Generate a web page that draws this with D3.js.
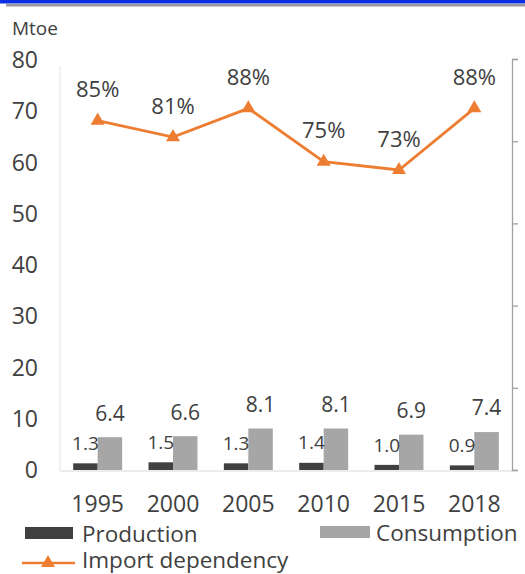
<!DOCTYPE html>
<html><head><meta charset="utf-8">
<script src="https://cdn.jsdelivr.net/npm/d3@7"></script>
<style>body{margin:0;background:#fff;} svg{display:block;}</style>
</head><body>
<script>
const years = ["1995","2000","2005","2010","2015","2018"];
const production = [1.3, 1.5, 1.3, 1.4, 1.0, 0.9];
const consumption = [6.4, 6.6, 8.1, 8.1, 6.9, 7.4];
const importDependency = [85, 81, 88, 75, 73, 88];
const leftTicks = [0,10,20,30,40,50,60,70,80];
const rightTicks = [0,20,40,60,80,100];

const W=525,H=574;
const svg=d3.select("body").append("svg").attr("width",W).attr("height",H);
const font="'Open Sans', sans-serif";
svg.append("rect").attr("x",0).attr("y",0).attr("width",W).attr("height",3.5).attr("fill","#0a2fe0");
svg.append("rect").attr("x",6).attr("y",4).attr("width",W-6).attr("height",2.5).attr("fill","#9a9a9a");

const x0=d3.scaleBand().domain(years).range([60,512]).paddingInner(0.35).paddingOuter(0.175);
const x1=d3.scaleBand().domain(["p","c"]).range([0,x0.bandwidth()]);
const y=d3.scaleLinear().domain([0,80]).range([470,60]);
const yr=d3.scaleLinear().domain([0,100]).range([470,59]);

// faint left axis & baseline
svg.append("line").attr("x1",60).attr("x2",60).attr("y1",66).attr("y2",471).attr("stroke","#ececec").attr("stroke-width",1.5);
svg.append("line").attr("x1",60).attr("x2",512).attr("y1",471).attr("y2",471).attr("stroke","#e6e6e6").attr("stroke-width",1.5);

// left tick labels
svg.append("g").selectAll("text").data(leftTicks).join("text")
 .attr("x",38).attr("y",d=>y(d)).attr("dy","0.35em").attr("text-anchor","end")
 .attr("font-family",font).attr("font-size",23).attr("fill","#404040").text(d=>d);
svg.append("text").attr("x",12).attr("y",35).attr("font-family",font).attr("font-size",19).attr("fill","#404040").text("Mtoe");

// right axis
const ra=svg.append("g").attr("transform","translate(512,0)")
 .call(d3.axisRight(yr).tickValues(rightTicks).tickSize(6).tickFormat(""));
ra.selectAll("path,line").attr("stroke","#a0a0a0").attr("stroke-width",1.3);

// bars
const g=svg.append("g");
years.forEach((yy,i)=>{
  const gx=x0(yy);
  g.append("rect").attr("x",gx+x1("p")).attr("y",y(production[i])).attr("width",x1.bandwidth()).attr("height",y(0)-y(production[i])).attr("fill","#404040");
  g.append("rect").attr("x",gx+x1("c")).attr("y",y(consumption[i])).attr("width",x1.bandwidth()).attr("height",y(0)-y(consumption[i])).attr("fill","#a6a6a6");
  g.append("text").attr("x",gx+x1("p")+x1.bandwidth()/2).attr("y",y(production[i])-20).attr("dy","0.35em").attr("text-anchor","middle")
   .attr("font-family",font).attr("font-size",19).attr("fill","#404040").text(production[i].toFixed(1));
  g.append("text").attr("x",gx+x1("c")+x1.bandwidth()/2).attr("y",y(consumption[i])-24).attr("dy","0.35em").attr("text-anchor","middle")
   .attr("font-family",font).attr("font-size",21).attr("fill","#404040").text(consumption[i].toFixed(1));
});

// x labels
svg.append("g").selectAll("text").data(years).join("text")
 .attr("x",d=>x0(d)+x0.bandwidth()/2).attr("y",504).attr("dy","0.35em").attr("text-anchor","middle")
 .attr("font-family",font).attr("font-size",23).attr("fill","#404040").text(d=>d);

// line
const cx=d=>x0(d)+x0.bandwidth()/2;
const line=d3.line().x((d,i)=>cx(years[i])).y(d=>yr(d));
svg.append("path").datum(importDependency).attr("d",line).attr("fill","none").attr("stroke","#ed7d31").attr("stroke-width",2.8);
const tri=d3.symbol().type(d3.symbolTriangle).size(85);
svg.append("g").selectAll("path").data(importDependency).join("path")
 .attr("transform",(d,i)=>`translate(${cx(years[i])},${yr(d)})`).attr("d",tri).attr("fill","#ed7d31");
svg.append("g").selectAll("text").data(importDependency).join("text")
 .attr("x",(d,i)=>cx(years[i])).attr("y",d=>yr(d)-31).attr("dy","0.35em").attr("text-anchor","middle")
 .attr("font-family",font).attr("font-size",22).attr("fill","#404040").text(d=>d+"%");

// legend
svg.append("rect").attr("x",25).attr("y",527).attr("width",48).attr("height",12).attr("fill","#404040");
svg.append("text").attr("x",82).attr("y",534).attr("dy","0.35em").attr("font-family",font).attr("font-size",22.5).attr("fill","#404040").text("Production");
svg.append("rect").attr("x",320).attr("y",526).attr("width",50).attr("height",12).attr("fill","#a6a6a6");
svg.append("text").attr("x",376).attr("y",533).attr("dy","0.35em").attr("font-family",font).attr("font-size",22.5).attr("fill","#404040").text("Consumption");
svg.append("line").attr("x1",22).attr("x2",75).attr("y1",563).attr("y2",563).attr("stroke","#ed7d31").attr("stroke-width",2.5);
svg.append("path").attr("transform","translate(48,563)").attr("d",tri).attr("fill","#ed7d31");
svg.append("text").attr("x",82).attr("y",560).attr("dy","0.35em").attr("font-family",font).attr("font-size",22.5).attr("fill","#404040").text("Import dependency");
</script>
</body></html>
